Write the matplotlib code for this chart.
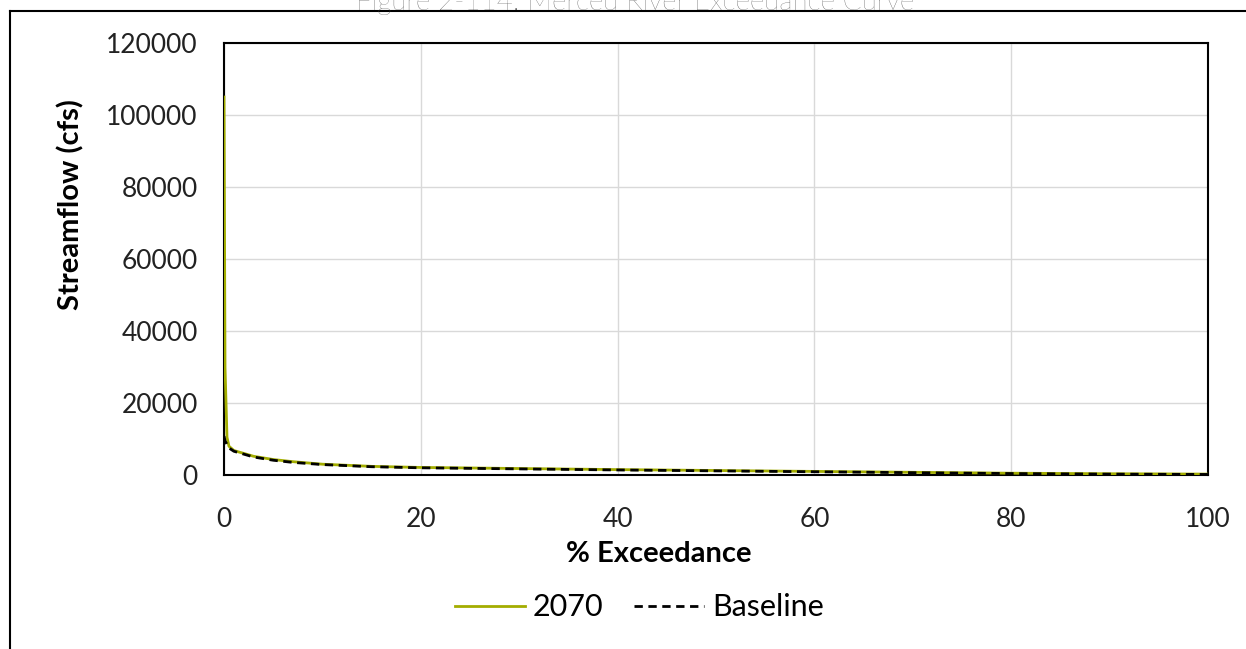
import matplotlib
matplotlib.use("Agg")
import matplotlib.pyplot as plt
from matplotlib.lines import Line2D

# Exceedance curve values
exceedance = [0, 0.1, 0.3, 0.5, 1, 2, 3, 5, 7, 10, 15, 20, 30, 40, 50, 60, 70, 80, 90, 100]
flow_2070 = [105000, 30000, 10500, 8000, 6800, 6000, 5200, 4300, 3700, 3000, 2400,
             2100, 1800, 1500, 1250, 1000, 750, 500, 350, 250]
flow_baseline = [10800, 9500, 8500, 7500, 6600, 5800, 5000, 4100, 3500, 2900, 2300,
                 2000, 1700, 1400, 1150, 900, 650, 400, 250, 150]

x_ticks = [0, 20, 40, 60, 80, 100]
y_ticks = [0, 20000, 40000, 60000, 80000, 100000, 120000]
title = "Figure 2-114: Merced River Exceedance Curve"

plt.rcParams["font.family"] = ["Lato", "DejaVu Sans"]

fig = plt.figure(figsize=(12.46, 6.49), dpi=100)
ax = fig.add_axes([0.1798, 0.2681, 0.7897, 0.6656])

ax.plot(exceedance, flow_2070, color="#a3ad00", lw=2, label="2070", zorder=3)
ax.plot(exceedance, flow_baseline, color="black", lw=2, ls=(0, (3, 2)),
        label="Baseline", zorder=4)

ax.set_xlim(0, 100)
ax.set_ylim(0, 120000)
ax.set_xticks(x_ticks)
ax.set_yticks(y_ticks)
ax.tick_params(labelsize=19, length=0, colors="#222222")
ax.tick_params(axis="y", pad=19)
ax.tick_params(axis="x", pad=23)
ax.grid(True, color="#d9d9d9", lw=1)
ax.set_axisbelow(True)
for sp in ax.spines.values():
    sp.set_linewidth(1.5)
    sp.set_color("black")

ax.set_xlabel("% Exceedance", fontsize=21, fontweight="bold")
ax.xaxis.set_label_coords(0.442, -0.152)
ax.set_ylabel("Streamflow (cfs)", fontsize=21, fontweight="bold")
ax.yaxis.set_label_coords(-0.142, 0.625)

fig.legend(loc="center", bbox_to_anchor=(0.513, 0.064), ncol=2, frameon=False,
           fontsize=22, handlelength=2.3, columnspacing=1.0, handletextpad=0.25)

# outer frame (top and left edges)
fig.add_artist(Line2D([10 / 1246, 1], [1 - 11 / 649, 1 - 11 / 649],
                      transform=fig.transFigure, color="black", lw=1.5))
fig.add_artist(Line2D([10 / 1246, 10 / 1246], [0, 1 - 11 / 649],
                      transform=fig.transFigure, color="black", lw=1.5))

fig.text(0.51, 0.996, title, ha="center", va="center", fontsize=20,
         color="#444444", fontweight="light")

fig.savefig("out.png", dpi=100)
